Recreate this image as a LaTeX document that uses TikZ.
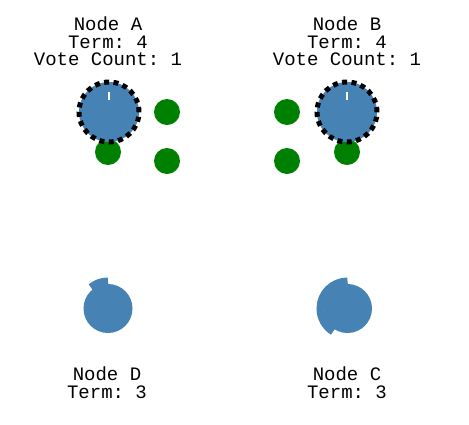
\documentclass[tikz,border=0pt]{standalone}
\usepackage{fontspec}
\setmonofont{Liberation Mono}
\definecolor{srvblue}{RGB}{70,130,180}
\definecolor{votegreen}{RGB}{0,128,0}
\begin{document}
\begin{tikzpicture}[x=1pt,y=-1pt,
  label/.style={font=\ttfamily\fontsize{19}{17.3}\selectfont, anchor=base, inner sep=0pt, align=center},
  vote/.style={circle, fill=votegreen, minimum size=26pt, inner sep=0pt},
  leader/.style={circle, fill=srvblue, draw=black, line width=5pt, dash pattern=on 5pt off 4.4pt, minimum size=60pt, inner sep=0pt},
  server/.style={circle, fill=srvblue, minimum size=49pt, inner sep=0pt},
  timer/.style={draw=srvblue, line width=7pt},
  tick/.style={draw=white, line width=2pt}
]
\useasboundingbox (0,0) rectangle (469,424);
% labels (anchored at the baseline of their last line)
\node[label] (la) at (108,65.5) {Node A\\Term: 4\\Vote Count: 1};
\node[label] (lb) at (347,65.5) {Node B\\Term: 4\\Vote Count: 1};
\node[label] (ld) at (107,398) {Node D\\Term: 3};
\node[label] (lc) at (347,398) {Node C\\Term: 3};
% votes
\node[vote] (va1) at (167,112) {};
\node[vote] (va2) at (167,161) {};
\node[vote] (va3) at (108,152) {};
\node[vote] (vb1) at (287,112) {};
\node[vote] (vb2) at (287,161) {};
\node[vote] (vb3) at (347,152) {};
% leaders
\node[leader] (A) at (109,112) {};
\node[leader] (B) at (347,112) {};
\coordinate (ta1) at (109,92);
\coordinate (ta2) at (109,100);
\coordinate (tb1) at (347,92);
\coordinate (tb2) at (347,100);
\draw[tick] (ta1) -- (ta2);
\draw[tick] (tb1) -- (tb2);
% followers
\node[server] (D) at (108,308.5) {};
\node[server] (C) at (347.5,308.5) {};
\draw[timer] (D.center) ++(-90:27.5) arc[start angle=-90, end angle=-129, radius=27.5];
\draw[timer] (C.center) ++(-90:27.5) arc[start angle=-90, end angle=-238, radius=27.5];
\end{tikzpicture}
\end{document}
